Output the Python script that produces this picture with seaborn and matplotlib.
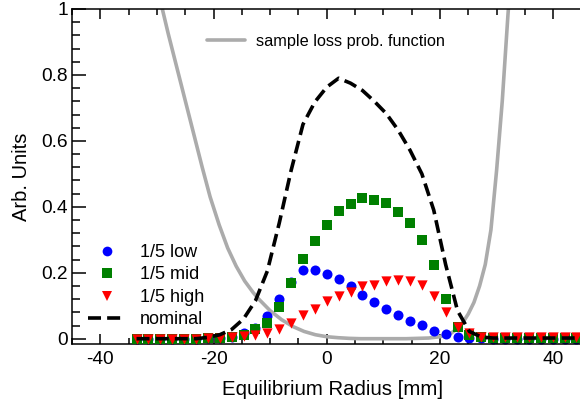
import matplotlib
matplotlib.use('Agg')
import matplotlib.pyplot as plt
import seaborn as sns
from matplotlib.lines import Line2D
from matplotlib.ticker import MultipleLocator, FuncFormatter

# ---------------- data ----------------
radius = [-33.6, -31.5, -29.4, -27.3, -25.2, -23.1, -21.0, -18.9, -16.8, -14.7,
          -12.6, -10.5, -8.4, -6.3, -4.2, -2.1, 0.0, 2.1, 4.2, 6.3,
          8.4, 10.5, 12.6, 14.7, 16.8, 18.9, 21.0, 23.1, 25.2, 27.3,
          29.4, 31.5, 33.6, 35.7, 37.8, 39.9, 42.0, 44.1]

low = [0, 0, 0, 0, 0, 0, 0.001, 0.002, 0.006, 0.017,
       0.031, 0.068, 0.119, 0.172, 0.209, 0.208, 0.196, 0.180, 0.160, 0.132,
       0.110, 0.091, 0.072, 0.054, 0.042, 0.024, 0.013, 0.006, 0.002, 0.001,
       0, 0, 0, 0, 0, 0, 0, 0]

mid = [0, 0, 0, 0, 0, 0, 0.001, 0.003, 0.005, 0.010,
       0.029, 0.048, 0.096, 0.168, 0.241, 0.296, 0.345, 0.387, 0.410, 0.428,
       0.422, 0.413, 0.385, 0.350, 0.299, 0.223, 0.120, 0.034, 0.011, 0.004,
       0.003, 0.002, 0.002, 0.002, 0.002, 0.002, 0.002, 0.002]

high = [0, 0, 0, 0, 0, 0, 0.003, 0.002, 0.004, 0.008,
        0.010, 0.018, 0.030, 0.048, 0.072, 0.091, 0.113, 0.129, 0.141, 0.160,
        0.163, 0.176, 0.177, 0.176, 0.163, 0.129, 0.082, 0.036, 0.016, 0.006,
        0.004, 0.004, 0.004, 0.004, 0.004, 0.004, 0.004, 0.004]

nominal = [0, 0, 0, 0, 0, 0, 0.004, 0.012, 0.028, 0.060,
           0.115, 0.205, 0.350, 0.510, 0.650, 0.718, 0.763, 0.790, 0.775, 0.753,
           0.720, 0.683, 0.633, 0.572, 0.500, 0.390, 0.225, 0.085, 0.022, 0.005,
           0.002, 0.002, 0.002, 0.002, 0.002, 0.002, 0.002, 0.002]

loss_x = [-29.6, -28, -26, -24, -22, -20.6, -19, -17.5, -16, -14.5,
          -13, -12, -10, -8, -6, -4, -2, 0, 2, 4,
          6, 8, 10, 12, 14, 16, 18, 20, 22, 23,
          24, 25, 26, 27, 28, 29, 29.5, 30, 31, 32, 32.5]
loss_y = [1.04, 0.925, 0.79, 0.655, 0.52, 0.43, 0.345, 0.275, 0.22, 0.175,
          0.14, 0.12, 0.085, 0.058, 0.037, 0.022, 0.012, 0.006, 0.003, 0.001,
          0, 0, 0, 0, 0, 0.001, 0.002, 0.006, 0.017, 0.030,
          0.048, 0.075, 0.11, 0.16, 0.225, 0.33, 0.42, 0.51, 0.72, 0.98, 1.10]

series_labels = ['1/5 low', '1/5 mid', '1/5 high', 'nominal']
loss_label = 'sample loss prob. function'
x_label = 'Equilibrium Radius [mm]'
y_label = 'Arb. Units'

# ---------------- style ----------------
sns.set_style('ticks')
plt.rcParams['font.family'] = ['Liberation Sans', 'DejaVu Sans']
plt.rcParams['axes.unicode_minus'] = False
plt.rcParams['text.color'] = 'black'
plt.rcParams['axes.labelcolor'] = 'black'
plt.rcParams['xtick.color'] = 'black'
plt.rcParams['ytick.color'] = 'black'
plt.rcParams['axes.edgecolor'] = 'black'

GRAY = '#ababab'
BLUE = '#0000ff'
GREEN = '#008000'
RED = '#ff0000'

fig = plt.figure(figsize=(5.8, 4.05), dpi=100)
ax = fig.add_axes([72 / 580, (405 - 344.3) / 405, 509.5 / 580, 335.3 / 405])

sns.lineplot(x=loss_x, y=loss_y, color=GRAY, linewidth=2.6, ax=ax,
             estimator=None, sort=False, zorder=1)

msize = 52
sns.scatterplot(x=radius, y=low, color=BLUE, marker='o', s=msize,
                linewidth=0, ax=ax, zorder=2)
sns.scatterplot(x=radius, y=mid, color=GREEN, marker='s', s=msize,
                linewidth=0, ax=ax, zorder=3)
sns.scatterplot(x=radius, y=high, color=RED, marker='v', s=msize * 1.05,
                linewidth=0, ax=ax, zorder=4)
sns.lineplot(x=radius, y=nominal, color='black', linewidth=2.6, ax=ax,
             estimator=None, sort=False, zorder=5)
dash = (3.6, 1.7)
ax.lines[-1].set_dashes(dash)

ax.set_xlim(-45, 45)
ax.set_ylim(-0.017, 1.0)

ax.xaxis.set_major_locator(MultipleLocator(20))
ax.xaxis.set_minor_locator(MultipleLocator(5))
ax.yaxis.set_major_locator(MultipleLocator(0.2))
ax.yaxis.set_minor_locator(MultipleLocator(0.04))


def yfmt(v, pos):
    if abs(v) < 1e-9:
        return '0'
    if abs(v - 1) < 1e-9:
        return '1'
    return f'{v:.1f}'


ax.yaxis.set_major_formatter(FuncFormatter(yfmt))

ax.tick_params(which='both', direction='in', top=True, right=False,
               width=1.1, labelsize=13.8)
ax.tick_params(axis='x', which='major', length=7.2, pad=4.5)
ax.tick_params(axis='x', which='minor', length=4.3)
ax.tick_params(axis='y', which='major', length=10, pad=2.7)
ax.tick_params(axis='y', which='minor', length=5.8)

for side in ['left', 'bottom', 'top']:
    ax.spines[side].set_linewidth(1.1)
ax.spines['right'].set_visible(False)

ax.set_xlabel(x_label, fontsize=14.7)
ax.xaxis.set_label_coords(0.512, -0.1065)
ax.set_ylabel(y_label, fontsize=14.5)
ax.yaxis.set_label_coords(-0.080, 0.5)

# legends
leg1 = ax.legend(handles=[Line2D([], [], color=GRAY, linewidth=2.6)],
                 labels=[loss_label], loc='upper left',
                 bbox_to_anchor=(0.265, 0.925), frameon=False, fontsize=11.7,
                 handlelength=2.35, handletextpad=0.68, borderpad=0,
                 borderaxespad=0)
ax.add_artist(leg1)

ms = 7.0
handles = [
    Line2D([], [], ls='none', marker='o', color=BLUE, markersize=ms, markeredgewidth=0),
    Line2D([], [], ls='none', marker='s', color=GREEN, markersize=ms, markeredgewidth=0),
    Line2D([], [], ls='none', marker='v', color=RED, markersize=ms, markeredgewidth=0),
    Line2D([], [], color='black', linewidth=2.6, dashes=dash),
]
ax.legend(handles=handles, labels=series_labels, loc='upper left',
          bbox_to_anchor=(0.031, 0.299), frameon=False, fontsize=13,
          handlelength=2.1, handletextpad=0.78, labelspacing=0.3,
          borderpad=0, borderaxespad=0)

fig.savefig('out.png', dpi=100)
